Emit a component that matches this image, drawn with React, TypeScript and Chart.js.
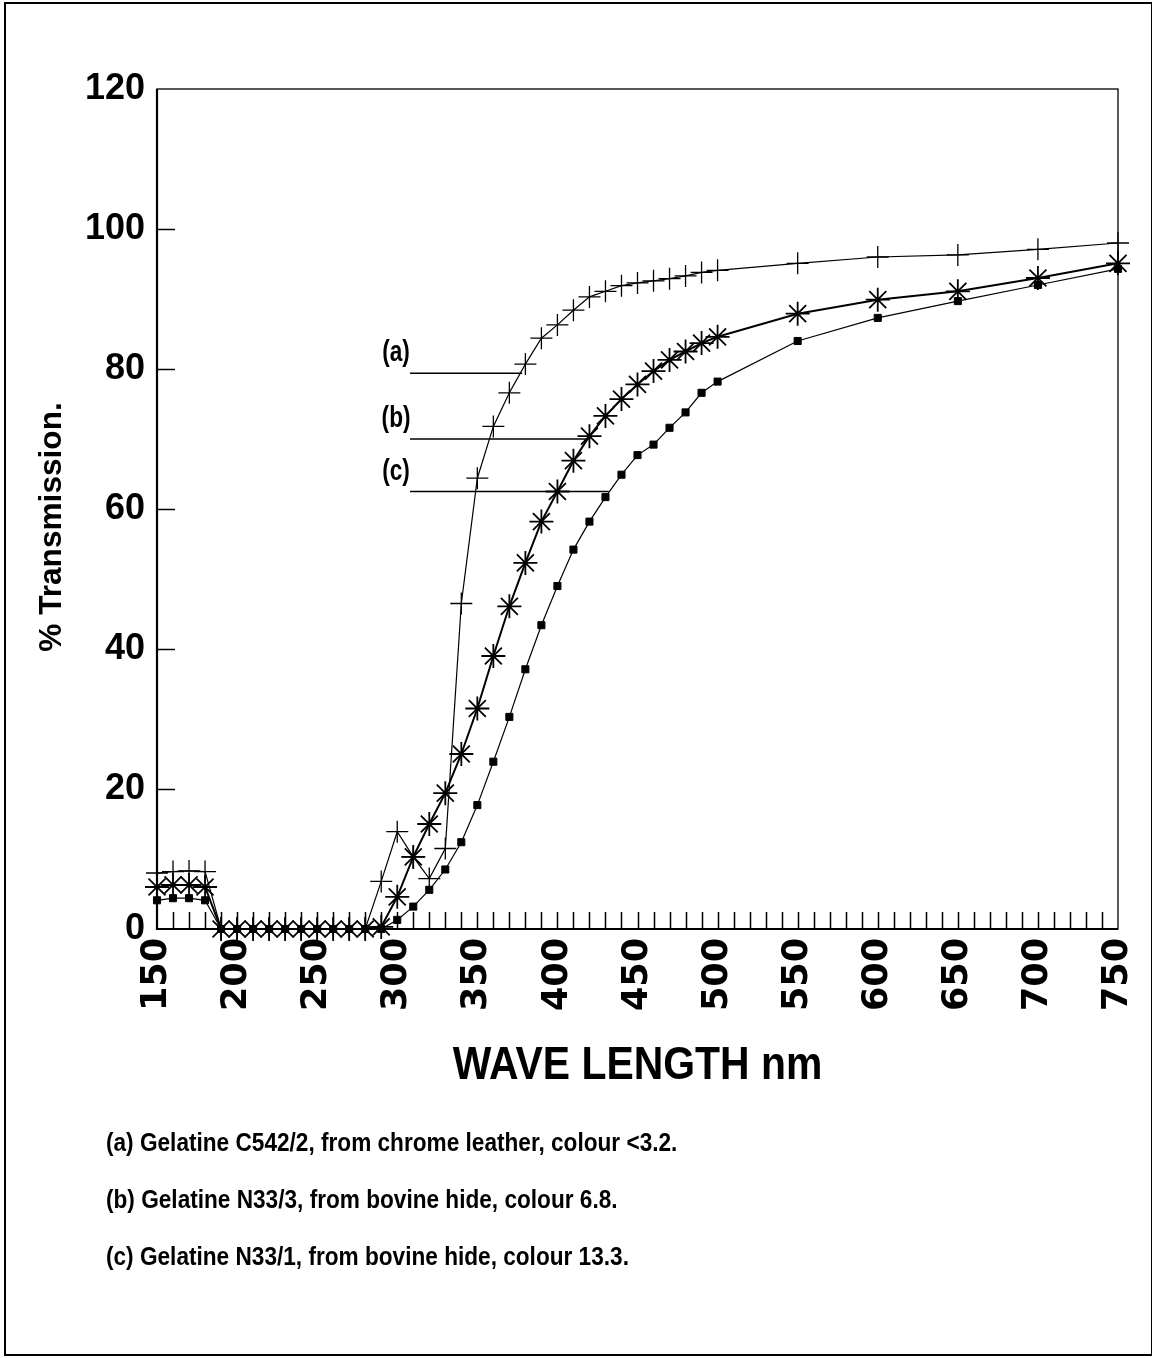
import React, { useEffect, useRef } from 'react';
import { Chart, registerables } from 'chart.js';

Chart.register(...registerables);

// Wavelengths sampled (nm)
const wavelengths = [
  150, 160, 170, 180, 190, 200, 210, 220, 230, 240, 250, 260, 270, 280, 290,
  300, 310, 320, 330, 340, 350, 360, 370, 380, 390, 400, 410, 420, 430, 440,
  450, 460, 470, 480, 490, 500, 550, 600, 650, 700, 750,
];

// (a) Gelatine C542/2 – % transmission
const gelatineA = [
  8.0, 8.2, 8.3, 8.2, 0, 0, 0, 0, 0, 0, 0, 0, 0, 0, 6.8,
  13.9, 10.3, 7.2, 11.5, 46.5, 64.4, 71.8, 76.6, 80.7, 84.4, 86.3, 88.4, 90.3, 91.1, 91.9,
  92.3, 92.6, 92.9, 93.3, 93.8, 94.1, 95.1, 96.0, 96.3, 97.1, 98.0,
];

// (b) Gelatine N33/3 – % transmission
const gelatineB = [
  6.0, 6.3, 6.3, 6.0, 0, 0, 0, 0, 0, 0, 0, 0, 0, 0, 0.3,
  4.6, 10.3, 15.0, 19.4, 25.0, 31.5, 39.0, 46.1, 52.3, 58.2, 62.5, 66.9, 70.4, 73.3, 75.7,
  77.8, 79.7, 81.3, 82.5, 83.7, 84.6, 87.9, 89.9, 91.1, 93.0, 95.1,
];

// (c) Gelatine N33/1 – % transmission
const gelatineC = [
  4.1, 4.4, 4.4, 4.1, 0, 0, 0, 0, 0, 0, 0, 0, 0, 0, 0,
  1.3, 3.2, 5.6, 8.5, 12.4, 17.7, 23.9, 30.3, 37.1, 43.4, 49.0, 54.2, 58.2, 61.7, 64.9,
  67.7, 69.2, 71.6, 73.8, 76.6, 78.2, 84.0, 87.3, 89.7, 92.0, 94.3,
];

const xMin = 150;
const xMax = 750;
const xMajorStep = 50;
const xMinorStep = 10;
const yMin = 0;
const yMax = 120;
const yStep = 20;

// Curve tags with their leader lines (wavelength start/end, transmission level)
const curveTags = ['(a)', '(b)', '(c)'];
const tagLevels = [79.4, 70.0, 62.5];
const tagStart = 308;
const tagEnds = [378, 420, 432];

const xTitle = 'WAVE LENGTH nm';
const yTitle = '% Transmission.';
const footnotes = [
  '(a) Gelatine C542/2, from chrome leather, colour <3.2.',
  '(b) Gelatine N33/3, from bovine hide, colour 6.8.',
  '(c) Gelatine N33/1, from bovine hide, colour 13.3.',
];

const W = 1152;
const H = 1358;

function condensedText(
  ctx: CanvasRenderingContext2D,
  text: string,
  x: number,
  y: number,
  font: string,
  sx: number,
  align: CanvasTextAlign,
  rotate = 0
) {
  ctx.save();
  ctx.translate(x, y);
  if (rotate) ctx.rotate(rotate);
  ctx.scale(sx, 1);
  ctx.font = font;
  ctx.textAlign = align;
  ctx.textBaseline = 'middle';
  ctx.fillStyle = '#000';
  ctx.fillText(text, 0, 0);
  ctx.restore();
}

const framePlugin = {
  id: 'frameAndTicks',
  beforeDatasetsDraw(chart: any) {
    const { ctx, chartArea: a, scales } = chart;
    const x = scales.x;
    const y = scales.y;
    ctx.save();
    ctx.strokeStyle = '#000';
    ctx.lineWidth = 1.3;
    ctx.strokeRect(a.left, a.top, a.right - a.left, a.bottom - a.top);
    ctx.lineWidth = 2.2;
    ctx.beginPath();
    ctx.moveTo(a.left, a.top);
    ctx.lineTo(a.left, a.bottom);
    ctx.lineTo(a.right, a.bottom);
    ctx.stroke();

    // inward tick marks
    ctx.lineWidth = 1.5;
    ctx.beginPath();
    for (let v = yMin + yStep; v < yMax; v += yStep) {
      const py = Math.round(y.getPixelForValue(v)) + 0.5;
      ctx.moveTo(a.left, py);
      ctx.lineTo(a.left + 18, py);
    }
    for (let w = xMin + xMinorStep; w < xMax; w += xMinorStep) {
      const px = Math.round(x.getPixelForValue(w)) + 0.5;
      ctx.moveTo(px, a.bottom);
      ctx.lineTo(px, a.bottom - 17);
    }
    ctx.stroke();
    ctx.restore();
  },
  afterDraw(chart: any) {
    const { ctx, chartArea: a, scales } = chart;
    const x = scales.x;
    const y = scales.y;
    ctx.save();

    // curve tags
    ctx.strokeStyle = '#000';
    ctx.lineWidth = 1.6;
    curveTags.forEach((tag, i) => {
      const py = y.getPixelForValue(tagLevels[i]);
      const x0 = x.getPixelForValue(tagStart);
      const x1 = x.getPixelForValue(tagEnds[i]);
      ctx.beginPath();
      ctx.moveTo(x0, py);
      ctx.lineTo(x1, py);
      ctx.stroke();
      condensedText(ctx, tag, x0 - 14, py - 20, 'bold 29px "Liberation Sans"', 0.78, 'center');
    });

    // axis titles
    condensedText(ctx, xTitle, (a.left + a.right) / 2, 1066, 'bold 47px "Liberation Sans"', 0.87, 'center');
    condensedText(ctx, yTitle, 52, 527, 'bold 31px "Liberation Sans"', 1.02, 'center', -Math.PI / 2);

    // notes
    footnotes.forEach((note, i) => {
      condensedText(ctx, note, 106, 1144 + i * 57, 'bold 26px "Liberation Sans"', 0.87, 'left');
    });

    // outer frame
    ctx.lineWidth = 2;
    ctx.strokeRect(5, 3, W - 5, H - 6);
    ctx.restore();
  },
};

export default function App() {
  const canvasRef = useRef<HTMLCanvasElement | null>(null);

  useEffect(() => {
    const canvas = canvasRef.current;
    if (!canvas) return;
    const toPoints = (vals: number[]) => wavelengths.map((w, i) => ({ x: w, y: vals[i] }));

    const chart = new Chart(canvas, {
      type: 'line',
      data: {
        datasets: [
          {
            label: '(a)',
            data: toPoints(gelatineA),
            borderColor: '#000',
            backgroundColor: '#000',
            borderWidth: 1.2,
            pointStyle: 'cross',
            pointRadius: 11,
            pointBorderWidth: 1.3,
            pointBorderColor: '#000',
            tension: 0,
            clip: false as any,
          },
          {
            label: '(b)',
            data: toPoints(gelatineB),
            borderColor: '#000',
            backgroundColor: '#000',
            borderWidth: 2,
            pointStyle: 'star',
            pointRadius: 12,
            pointBorderWidth: 1.8,
            pointBorderColor: '#000',
            tension: 0,
            clip: false as any,
          },
          {
            label: '(c)',
            data: toPoints(gelatineC),
            borderColor: '#000',
            backgroundColor: '#000',
            borderWidth: 1.2,
            pointStyle: 'rect',
            pointRadius: 5,
            pointBorderWidth: 1,
            pointBackgroundColor: '#000',
            pointBorderColor: '#000',
            tension: 0,
            clip: false as any,
          },
        ],
      },
      options: {
        responsive: false,
        animation: false,
        devicePixelRatio: 1,
        events: [],
        layout: { padding: { left: 0, top: 89, right: W - 1118, bottom: H - 929 - 100 } },
        plugins: { legend: { display: false }, tooltip: { enabled: false } },
        scales: {
          x: {
            type: 'linear',
            min: xMin,
            max: xMax,
            afterFit: (scale: any) => {
              scale.height = 100;
              scale.paddingLeft = 0;
              scale.paddingRight = 0;
            },
            grid: { display: false, drawTicks: false },
            border: { display: false },
            ticks: {
              stepSize: xMajorStep,
              autoSkip: false,
              maxRotation: 90,
              minRotation: 90,
              padding: 9,
              color: '#000',
              font: { family: '"DejaVu Sans"', weight: 'bold', size: 35 },
            },
          },
          y: {
            type: 'linear',
            min: yMin,
            max: yMax,
            afterFit: (scale: any) => {
              scale.width = 157;
              scale.paddingTop = 0;
              scale.paddingBottom = 0;
            },
            grid: { display: false, drawTicks: false },
            border: { display: false },
            ticks: {
              stepSize: yStep,
              padding: 12,
              color: '#000',
              font: { family: '"Liberation Sans"', weight: 'bold', size: 36 },
            },
          },
        },
      },
      plugins: [framePlugin],
    });

    return () => chart.destroy();
  }, []);

  return (
    <div style={{ position: 'absolute', left: 0, top: 0, width: W, height: H, background: '#fff' }}>
      <canvas ref={canvasRef} width={W} height={H} style={{ width: W, height: H, display: 'block' }} />
    </div>
  );
}
